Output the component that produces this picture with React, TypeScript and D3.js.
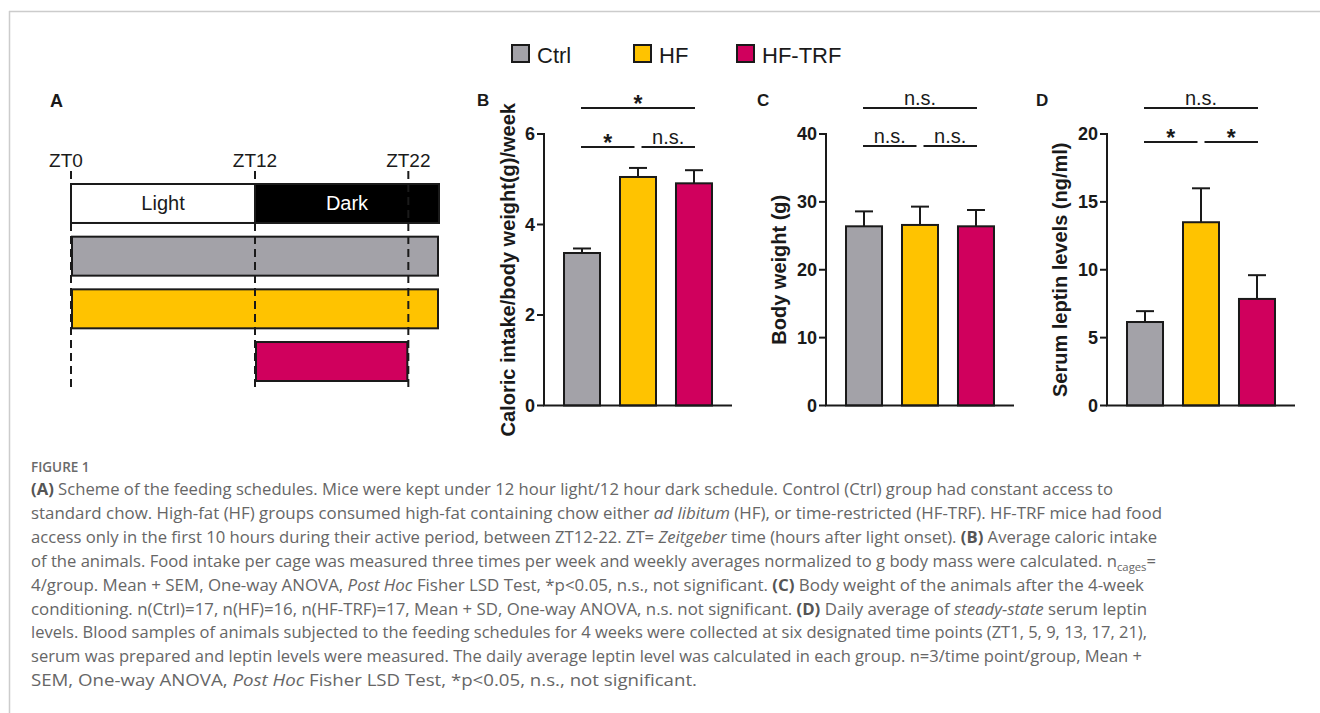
import React from 'react';
import * as d3 from 'd3';

const groups = ['Ctrl', 'HF', 'HF-TRF'];
const groupColors = ['#A3A2A8', '#FFC300', '#D0005D'];

// panel A: feeding schedule, in ZT hours
const scheduleRows = ['cycle', 'Ctrl', 'HF', 'HF-TRF'];
const lightPhase = [0, 12];
const darkPhase = [12, 24];
const feedingWindows = [[0, 24], [0, 24], [12, 22]];
const ztMarks = [0, 12, 22];

// panel B: caloric intake
const intakeMean = [3.37, 5.05, 4.91];
const intakeErr = [0.1, 0.2, 0.29];
const intakeTicks = [0, 2, 4, 6];
const intakeSig = [
  { a: 0, b: 2, level: 1, label: '*' },
  { a: 0, b: 1, level: 0, label: '*' },
  { a: 1, b: 2, level: 0, label: 'n.s.' },
];

// panel C: body weight
const weightMean = [26.4, 26.6, 26.4];
const weightErr = [2.2, 2.7, 2.4];
const weightTicks = [0, 10, 20, 30, 40];
const weightSig = [
  { a: 0, b: 2, level: 1, label: 'n.s.' },
  { a: 0, b: 1, level: 0, label: 'n.s.' },
  { a: 1, b: 2, level: 0, label: 'n.s.' },
];

// panel D: serum leptin
const leptinMean = [6.15, 13.5, 7.85];
const leptinErr = [0.8, 2.5, 1.75];
const leptinTicks = [0, 5, 10, 15, 20];
const leptinSig = [
  { a: 0, b: 2, level: 1, label: 'n.s.' },
  { a: 0, b: 1, level: 0, label: '*' },
  { a: 1, b: 2, level: 0, label: '*' },
];

// caption lines: [text, style] segments
const captionLines: [string, string][][] = [
  [['(A)', 'b'], [' Scheme of the feeding schedules. Mice were kept under 12 hour light/12 hour dark schedule. Control (Ctrl) group had constant access to', '']],
  [['standard chow. High-fat (HF) groups consumed high-fat containing chow either ', ''], ['ad libitum', 'i'], [' (HF), or time-restricted (HF-TRF). HF-TRF mice had food', '']],
  [['access only in the first 10 hours during their active period, between ZT12-22. ZT= ', ''], ['Zeitgeber', 'i'], [' time (hours after light onset). ', ''], ['(B)', 'b'], [' Average caloric intake', '']],
  [['of the animals. Food intake per cage was measured three times per week and weekly averages normalized to g body mass were calculated. n', ''], ['cages', 'sub'], ['=', 'up']],
  [['4/group. Mean + SEM, One-way ANOVA, ', ''], ['Post Hoc', 'i'], [' Fisher LSD Test, *p<0.05, n.s., not significant. ', ''], ['(C)', 'b'], [' Body weight of the animals after the 4-week', '']],
  [['conditioning. n(Ctrl)=17, n(HF)=16, n(HF-TRF)=17, Mean + SD, One-way ANOVA, n.s. not significant. ', ''], ['(D)', 'b'], [' Daily average of ', ''], ['steady-state', 'i'], [' serum leptin', '']],
  [['levels. Blood samples of animals subjected to the feeding schedules for 4 weeks were collected at six designated time points (ZT1, 5, 9, 13, 17, 21),', '']],
  [['serum was prepared and leptin levels were measured. The daily average leptin level was calculated in each group. n=3/time point/group, Mean +', '']],
  [['SEM, One-way ANOVA, ', ''], ['Post Hoc', 'i'], [' Fisher LSD Test, *p<0.05, n.s., not significant.', '']],
];
const captionWidths = [1082, 1131, 1126, 1125, 1113, 1116, 1116, 1111, 666];

const ARIAL = '"Liberation Sans", Arial, Helvetica, sans-serif';
const INK = '#1a1a1a';

function Schedule() {
  const x = d3.scaleLinear().domain([0, 24]).range([71, 439]);
  const y = d3.scaleBand().domain(scheduleRows).range([184, 381]).paddingInner(0.26);
  const bh = y.bandwidth();
  return (
    <g>
      <text x={50} y={107} fontFamily={ARIAL} fontWeight="bold" fontSize={18} fill={INK}>A</text>
      <rect x={x(lightPhase[0])} y={y('cycle')} width={x(lightPhase[1]) - x(lightPhase[0])} height={bh} fill="#fff" stroke={INK} strokeWidth={2} />
      <rect x={x(darkPhase[0])} y={y('cycle')} width={x(darkPhase[1]) - x(darkPhase[0])} height={bh} fill="#000" stroke={INK} strokeWidth={2} />
      <text x={(x(lightPhase[0]) + x(lightPhase[1])) / 2} y={y('cycle')! + bh / 2 + 7} textAnchor="middle" fontFamily={ARIAL} fontSize={20} fill={INK}>Light</text>
      <text x={(x(darkPhase[0]) + x(darkPhase[1])) / 2} y={y('cycle')! + bh / 2 + 7} textAnchor="middle" fontFamily={ARIAL} fontSize={20} fill="#fff">Dark</text>
      {groups.map((g, i) => (
        <rect key={g} x={x(feedingWindows[i][0]) + 1} y={y(g)} width={x(feedingWindows[i][1]) - x(feedingWindows[i][0]) - 2} height={bh}
          fill={groupColors[i]} stroke={INK} strokeWidth={2} />
      ))}
      {ztMarks.map(m => (
        <g key={m}>
          <text x={x(m) - (m === 0 ? 5 : 0)} y={167} textAnchor="middle" fontFamily={ARIAL} fontSize={19} fill={INK}>{'ZT' + m}</text>
          <line x1={x(m)} x2={x(m)} y1={171} y2={388} stroke={INK} strokeWidth={2} strokeDasharray="8,5" />
        </g>
      ))}
    </g>
  );
}

type Sig = { a: number; b: number; level: number; label: string };

function BarPanel({ letter, letterX, axisX, labelX, yLabel, mean, err, ticks, sig, sigY }:
  { letter: string; letterX: number; axisX: number; labelX: number; yLabel: string; mean: number[]; err: number[]; ticks: number[]; sig: Sig[]; sigY: number[] }) {
  const y0 = 405.5, yTop = 134;
  const y = d3.scaleLinear().domain([0, ticks[ticks.length - 1]]).range([y0, yTop]);
  const x = d3.scaleBand().domain(groups).range([axisX + 4, axisX + 184]).paddingInner(0.357).paddingOuter(0.286);
  const bw = x.bandwidth();
  const cx = (i: number) => x(groups[i])! + bw / 2;
  return (
    <g fontFamily={ARIAL} fill={INK}>
      <text x={letterX} y={106} fontWeight="bold" fontSize={17}>{letter}</text>
      <text transform={`translate(${labelX},${(y0 + yTop) / 2}) rotate(-90)`} textAnchor="middle" fontWeight="bold" fontSize={20}>{yLabel}</text>
      {groups.map((g, i) => (
        <g key={g}>
          <line x1={cx(i)} x2={cx(i)} y1={y(mean[i])} y2={y(mean[i] + err[i])} stroke={INK} strokeWidth={2} />
          <line x1={cx(i) - 9} x2={cx(i) + 9} y1={y(mean[i] + err[i])} y2={y(mean[i] + err[i])} stroke={INK} strokeWidth={2} />
          <rect x={x(g)} y={y(mean[i])} width={bw} height={y0 - y(mean[i])} fill={groupColors[i]} stroke={INK} strokeWidth={2} />
        </g>
      ))}
      <line x1={axisX} x2={axisX} y1={y0} y2={yTop - 1} stroke={INK} strokeWidth={2} />
      <line x1={axisX - 1} x2={axisX + 188} y1={y0} y2={y0} stroke={INK} strokeWidth={2} />
      {ticks.map(t => (
        <g key={t}>
          <line x1={axisX - 7} x2={axisX} y1={y(t)} y2={y(t)} stroke={INK} strokeWidth={2} />
          <text x={axisX - 9} y={y(t)} dy="0.36em" textAnchor="end" fontWeight="bold" fontSize={18}>{t}</text>
        </g>
      ))}
      {sig.map((s, k) => {
        const ly = sigY[s.level];
        const x1 = cx(s.a) + (s.a === 1 ? 3.5 : -1);
        const x2 = cx(s.b) - (s.b === 1 ? 3.5 : -1);
        const mx = (x1 + x2) / 2;
        return (
          <g key={k}>
            <line x1={x1} x2={x2} y1={ly} y2={ly} stroke={INK} strokeWidth={1.8} />
            {s.label === '*'
              ? <text x={mx} y={ly + 4} textAnchor="middle" fontSize={23} fontWeight="bold">*</text>
              : <text x={mx} y={ly - 3} textAnchor="middle" fontSize={20}>{s.label}</text>}
          </g>
        );
      })}
    </g>
  );
}

function Legend() {
  const xs = [512, 634, 737];
  return (
    <g fontFamily={ARIAL}>
      {groups.map((g, i) => (
        <g key={g}>
          <rect x={xs[i]} y={45} width={17} height={17} fill={groupColors[i]} stroke={INK} strokeWidth={2} />
          <text x={xs[i] + 25} y={62.5} fontSize={22} fill={INK}>{g}</text>
        </g>
      ))}
    </g>
  );
}

function Caption() {
  return (
    <g fontFamily='"Open Sans", "Noto Sans", sans-serif' fill="#666">
      <text x={31} y={472} fontSize={13.5} fontWeight={600} fill="#6a6a6a">FIGURE 1</text>
      {captionLines.map((line, i) => (
        <text key={i} x={31} y={495 + i * 23.9} fontSize={16.2} textLength={captionWidths[i]} lengthAdjust="spacingAndGlyphs">
          {line.map(([t, s], j) => {
            if (s === 'b') return <tspan key={j} fontWeight="bold" fill="#555">{t}</tspan>;
            if (s === 'i') return <tspan key={j} fontStyle="italic">{t}</tspan>;
            if (s === 'sub') return <tspan key={j} fontSize={11} dy={4}>{t}</tspan>;
            if (s === 'up') return <tspan key={j} dy={-4}>{t}</tspan>;
            return <tspan key={j}>{t}</tspan>;
          })}
        </text>
      ))}
    </g>
  );
}

export default function App() {
  return (
    <svg width={1320} height={713} style={{ position: 'absolute', left: 0, top: 0, background: '#fff' }}>
      <rect x={0} y={0} width={1320} height={713} fill="#fff" />
      <line x1={9} x2={1320} y1={11.5} y2={11.5} stroke="#cccccc" strokeWidth={1.5} />
      <line x1={9.5} x2={9.5} y1={11} y2={713} stroke="#cccccc" strokeWidth={1.5} />
      <Legend />
      <Schedule />
      <BarPanel letter="B" letterX={477} axisX={544} labelX={515} yLabel="Caloric intake/body weight(g)/week"
        mean={intakeMean} err={intakeErr} ticks={intakeTicks} sig={intakeSig} sigY={[147, 108]} />
      <BarPanel letter="C" letterX={757} axisX={826} labelX={786} yLabel="Body weight (g)"
        mean={weightMean} err={weightErr} ticks={weightTicks} sig={weightSig} sigY={[146, 108]} />
      <BarPanel letter="D" letterX={1036} axisX={1107} labelX={1067} yLabel="Serum leptin levels (ng/ml)"
        mean={leptinMean} err={leptinErr} ticks={leptinTicks} sig={leptinSig} sigY={[142, 108]} />
      <Caption />
    </svg>
  );
}
